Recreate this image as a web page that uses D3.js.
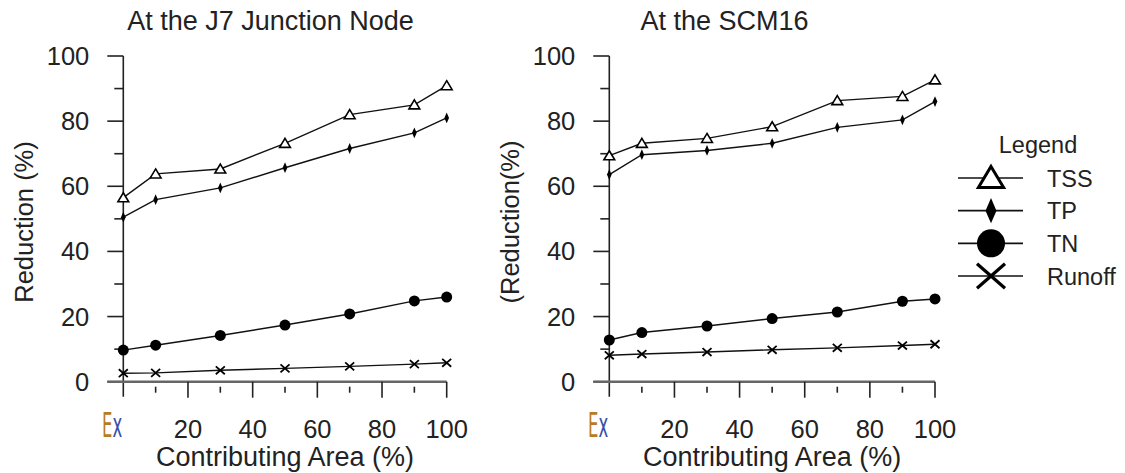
<!DOCTYPE html>
<html>
<head>
<meta charset="utf-8">
<script src="https://cdn.jsdelivr.net/npm/d3@7"></script>
<style>
  body { margin: 0; background: #fff; }
  text { font-family: "Liberation Sans", Arial, sans-serif; fill: #222; }
</style>
</head>
<body>
<div class="chart"></div>
<script>
const width = 1125;
const height = 473;

// contributing area (%) - 0 is the existing condition ("Ex")
const area = [0, 10, 30, 50, 70, 90, 100];
const xTickLabels = ["Ex", "20", "40", "60", "80", "100"];
const yTicks = [0, 20, 40, 60, 80, 100];

// reduction (%) at the J7 junction node
const j7TSS = [56.5, 63.8, 65.3, 73.2, 82.0, 85.0, 90.9];
const j7TP = [50.5, 55.9, 59.5, 65.7, 71.6, 76.4, 81.0];
const j7TN = [9.7, 11.2, 14.2, 17.4, 20.8, 24.8, 26.0];
const j7Runoff = [2.6, 2.7, 3.5, 4.1, 4.7, 5.4, 5.8];

// reduction (%) at SCM16
const scmTSS = [69.4, 73.2, 74.7, 78.3, 86.3, 87.6, 92.7];
const scmTP = [63.6, 69.7, 71.0, 73.2, 78.1, 80.4, 86.0];
const scmTN = [12.8, 15.1, 17.1, 19.4, 21.4, 24.7, 25.4];
const scmRunoff = [8.1, 8.5, 9.1, 9.8, 10.4, 11.1, 11.5];

const seriesNames = ["TSS", "TP", "TN", "Runoff"];

const svg = d3.select(".chart")
  .append("svg")
  .attr("width", width)
  .attr("height", height);

// marker shapes, s = size factor
function marker(g, name, s) {
  const big = s > 15;
  if (name === "TSS") {
    g.append("path")
      .attr("d", `M0,${-0.55 * s}L${0.6 * s},${0.45 * s}L${-0.6 * s},${0.45 * s}Z`)
      .attr("fill", "#fff").attr("stroke", "#000").attr("stroke-width", big ? 3 : 1.6)
      .attr("stroke-linejoin", "miter");
  } else if (name === "TP") {
    g.append("path")
      .attr("d", `M0,${-0.6 * s}L${0.26 * s},0L0,${0.6 * s}L${-0.26 * s},0Z`)
      .attr("fill", "#000");
  } else if (name === "TN") {
    g.append("circle").attr("r", 0.55 * s).attr("fill", "#000");
  } else {
    const a = 0.5 * s, b = 0.44 * s;
    g.append("path")
      .attr("d", `M${-a},${-b}L${a},${b}M${-a},${b}L${a},${-b}`)
      .attr("stroke", "#000").attr("stroke-width", big ? 3.2 : 1.8).attr("fill", "none");
  }
}

function drawPanel(opt) {
  const x = d3.scaleLinear().domain([0, 100]).range([opt.x0, opt.x1]);
  const y = d3.scaleLinear().domain([0, 100]).range([381.7, 56]);
  const g = svg.append("g");

  // title
  g.append("text")
    .attr("x", opt.titleX).attr("y", 30)
    .attr("text-anchor", "middle")
    .style("font-size", "27px")
    .text(opt.title);

  // y axis
  g.append("line")
    .attr("x1", x(0)).attr("x2", x(0))
    .attr("y1", y(100)).attr("y2", y(0) + 15)
    .attr("stroke", "#222").attr("stroke-width", 1.6);
  const yMinor = d3.range(0, 101, 10);
  g.selectAll(".ytick").data(yMinor).join("line")
    .attr("x1", d => x(0) - (d % 20 === 0 ? 16 : 9)).attr("x2", x(0))
    .attr("y1", d => y(d)).attr("y2", d => y(d))
    .attr("stroke", "#222").attr("stroke-width", 1.6);
  g.selectAll(".ylab").data(yTicks).join("text")
    .attr("x", x(0) - 34).attr("y", d => y(d) + 9)
    .attr("text-anchor", "end")
    .style("font-size", "25.5px")
    .text(d => d);

  // x axis
  g.append("line")
    .attr("x1", x(0) - 16).attr("x2", x(100))
    .attr("y1", y(0)).attr("y2", y(0))
    .attr("stroke", "#666").attr("stroke-width", 2.6);
  const xMinor = d3.range(10, 101, 10);
  g.selectAll(".xtick").data(xMinor).join("line")
    .attr("x1", d => x(d)).attr("x2", d => x(d))
    .attr("y1", d => y(0) + (d % 20 === 0 ? 0 : 5))
    .attr("y2", d => y(0) + (d % 20 === 0 ? 16 : 11))
    .attr("stroke", "#222").attr("stroke-width", 1.6);
  g.selectAll(".xlab").data(xTickLabels.slice(1)).join("text")
    .attr("x", (d, i) => x((i + 1) * 20)).attr("y", 438)
    .attr("text-anchor", "middle")
    .style("font-size", "25.5px")
    .text(d => d);

  // "Ex" label in a narrow face
  const ex = g.append("text")
    .attr("transform", `translate(${x(0) - 1},437) scale(0.5,1)`)
    .attr("text-anchor", "end")
    .style("font-family", "'DejaVu Sans'")
    .style("font-size", "33px");
  ex.append("tspan").style("fill", "#b97a24").text("E");
  ex.append("tspan").style("fill", "#3a4fa8").text("x");

  g.append("text")
    .attr("x", (opt.x0 + opt.x1) / 2).attr("y", 466)
    .attr("text-anchor", "middle")
    .style("font-size", "27px")
    .text("Contributing Area (%)");

  g.append("text")
    .attr("transform", `translate(${opt.ylabX},222) rotate(-90)`)
    .attr("text-anchor", "middle")
    .style("font-size", "25.5px")
    .text(opt.ylab);

  // series
  const line = d3.line().x((d, i) => x(area[i])).y(d => y(d));
  opt.series.forEach((vals, k) => {
    g.append("path")
      .attr("d", line(vals))
      .attr("fill", "none").attr("stroke", "#111").attr("stroke-width", 1.4);
    vals.forEach((v, i) => {
      const m = g.append("g").attr("transform", `translate(${x(area[i])},${y(v)})`);
      marker(m, seriesNames[k], seriesNames[k] === "TN" ? 10 : 9);
    });
  });
}

drawPanel({
  x0: 123.3, x1: 446.7, titleX: 270.5,
  title: "At the J7 Junction Node", ylab: "Reduction (%)", ylabX: 33,
  series: [j7TSS, j7TP, j7TN, j7Runoff]
});
drawPanel({
  x0: 609.3, x1: 935, titleX: 724.5,
  title: "At the SCM16", ylab: "(Reduction(%)", ylabX: 519,
  series: [scmTSS, scmTP, scmTN, scmRunoff]
});

// legend
const legend = svg.append("g");
legend.append("text")
  .attr("x", 1038).attr("y", 153)
  .attr("text-anchor", "middle")
  .style("font-size", "23.5px")
  .text("Legend");
const rowY = d3.scalePoint().domain(seriesNames).range([178, 276]);
const legendSize = {TSS: 21, TP: 21, TN: 25.5, Runoff: 28};
seriesNames.forEach(name => {
  const cy = rowY(name);
  legend.append("line")
    .attr("x1", 958).attr("x2", 1023).attr("y1", cy).attr("y2", cy)
    .attr("stroke", "#111").attr("stroke-width", 1.6);
  const m = legend.append("g").attr("transform", `translate(991,${cy})`);
  marker(m, name, legendSize[name]);
  legend.append("text")
    .attr("x", 1047).attr("y", cy + 8.5)
    .style("font-size", "23.5px")
    .text(name);
});
</script>
</body>
</html>
